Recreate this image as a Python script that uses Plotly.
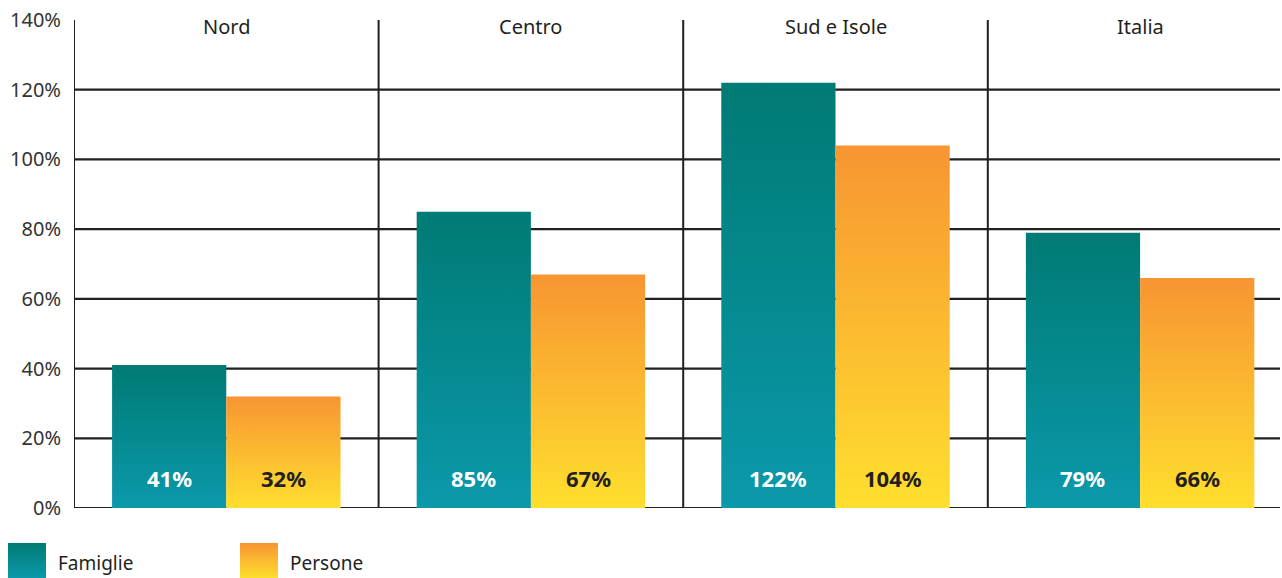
import plotly.graph_objects as go

regions = ["Nord", "Centro", "Sud e Isole", "Italia"]
famiglie = [41, 85, 122, 79]
persone = [32, 67, 104, 66]
series_names = ["Famiglie", "Persone"]
tick_values = [0, 20, 40, 60, 80, 100, 120, 140]
tick_labels = ["0%", "20%", "40%", "60%", "80%", "100%", "120%", "140%"]

W, H = 1282, 578
ML, MT = 0, 20
PLOT_H = H - MT
LEG_H = 70
X0 = 74
DARK = "#231f20"
FONT = "Noto Sans"

fam_scale = [[0, "#0b99ab"], [1, "#007a74"]]
per_scale = [[0, "#ffdf2e"], [1, "#f79532"]]
BW = 0.375

fig = go.Figure()

def bar(x0, x1, v, scale, name):
    fig.add_trace(go.Scatter(
        x=[x0, x1, x1, x0, x0], y=[0, 0, v, v, 0],
        mode="lines", line=dict(width=0), fill="toself",
        fillgradient=dict(type="vertical", colorscale=scale, start=0, stop=v),
        hoverinfo="skip", showlegend=False, name=name,
        xaxis="x", yaxis="y"))

for i, r in enumerate(regions):
    bar(i - BW, i, famiglie[i], fam_scale, series_names[0])
    bar(i, i + BW, persone[i], per_scale, series_names[1])

# legend swatches in a pixel-unit auxiliary axis
leg_items = [(8, 46, fam_scale, 56), (240, 278, per_scale, 288)]
for (a, b, sc, tx), nm in zip(leg_items, series_names):
    fig.add_trace(go.Scatter(
        x=[a, b, b, a, a], y=[0, 0, 35, 35, 0], mode="lines", line=dict(width=0),
        fill="toself", fillgradient=dict(type="vertical", colorscale=sc, start=0, stop=35),
        hoverinfo="skip", showlegend=False, xaxis="x2", yaxis="y2"))
    fig.add_annotation(x=tx, y=15, xref="x2", yref="y2", text=nm, showarrow=False,
                       xanchor="left", yanchor="middle",
                       font=dict(family=FONT, size=19, color=DARK))

shapes = []
for v in tick_values[:-1]:
    shapes.append(dict(type="line", xref="paper", yref="y", x0=X0 / W, x1=1280 / W,
                       y0=v, y1=v, line=dict(color=DARK, width=2.2), layer="below"))
for k in range(len(regions)):
    shapes.append(dict(type="line", xref="x", yref="y", x0=k - 0.5, x1=k - 0.5,
                       y0=0, y1=140, line=dict(color=DARK, width=2), layer="below"))

for i, r in enumerate(regions):
    fig.add_annotation(x=i, y=140, xref="x", yref="y", text=r, showarrow=False,
                       yanchor="middle", yshift=-6, font=dict(family=FONT, size=20, color=DARK))
    fig.add_annotation(x=i - BW / 2, y=8.6, xref="x", yref="y", text=f"<b>{famiglie[i]}%</b>",
                       showarrow=False, font=dict(family=FONT, size=22, color="white"))
    fig.add_annotation(x=i + BW / 2, y=8.6, xref="x", yref="y", text=f"<b>{persone[i]}%</b>",
                       showarrow=False, font=dict(family=FONT, size=22, color=DARK))

xr1 = -0.5 + (W - X0) / 304.6
fig.update_layout(
    width=W, height=H, margin=dict(l=ML, r=0, t=MT, b=0),
    paper_bgcolor="white", plot_bgcolor="rgba(0,0,0,0)",
    showlegend=False, shapes=shapes,
    xaxis=dict(domain=[X0 / W, 1], range=[-0.5, xr1], showgrid=False, zeroline=False,
               showticklabels=False, showline=False, fixedrange=True),
    yaxis=dict(domain=[LEG_H / PLOT_H, 1], range=[0, 140], showgrid=False, zeroline=False,
               tickvals=tick_values, ticktext=tick_labels, ticks="", ticklabelstandoff=12,
               tickfont=dict(family=FONT, size=20, color="#333333"), showline=False,
               automargin=False, fixedrange=True),
    xaxis2=dict(domain=[0, 1], range=[0, W], visible=False, fixedrange=True),
    yaxis2=dict(domain=[0, LEG_H / PLOT_H], range=[0, LEG_H], visible=False, fixedrange=True),
)

fig.write_html("out.html", config={"displayModeBar": False},
               post_script="document.body.style.margin='0';document.body.style.overflow='hidden';")
